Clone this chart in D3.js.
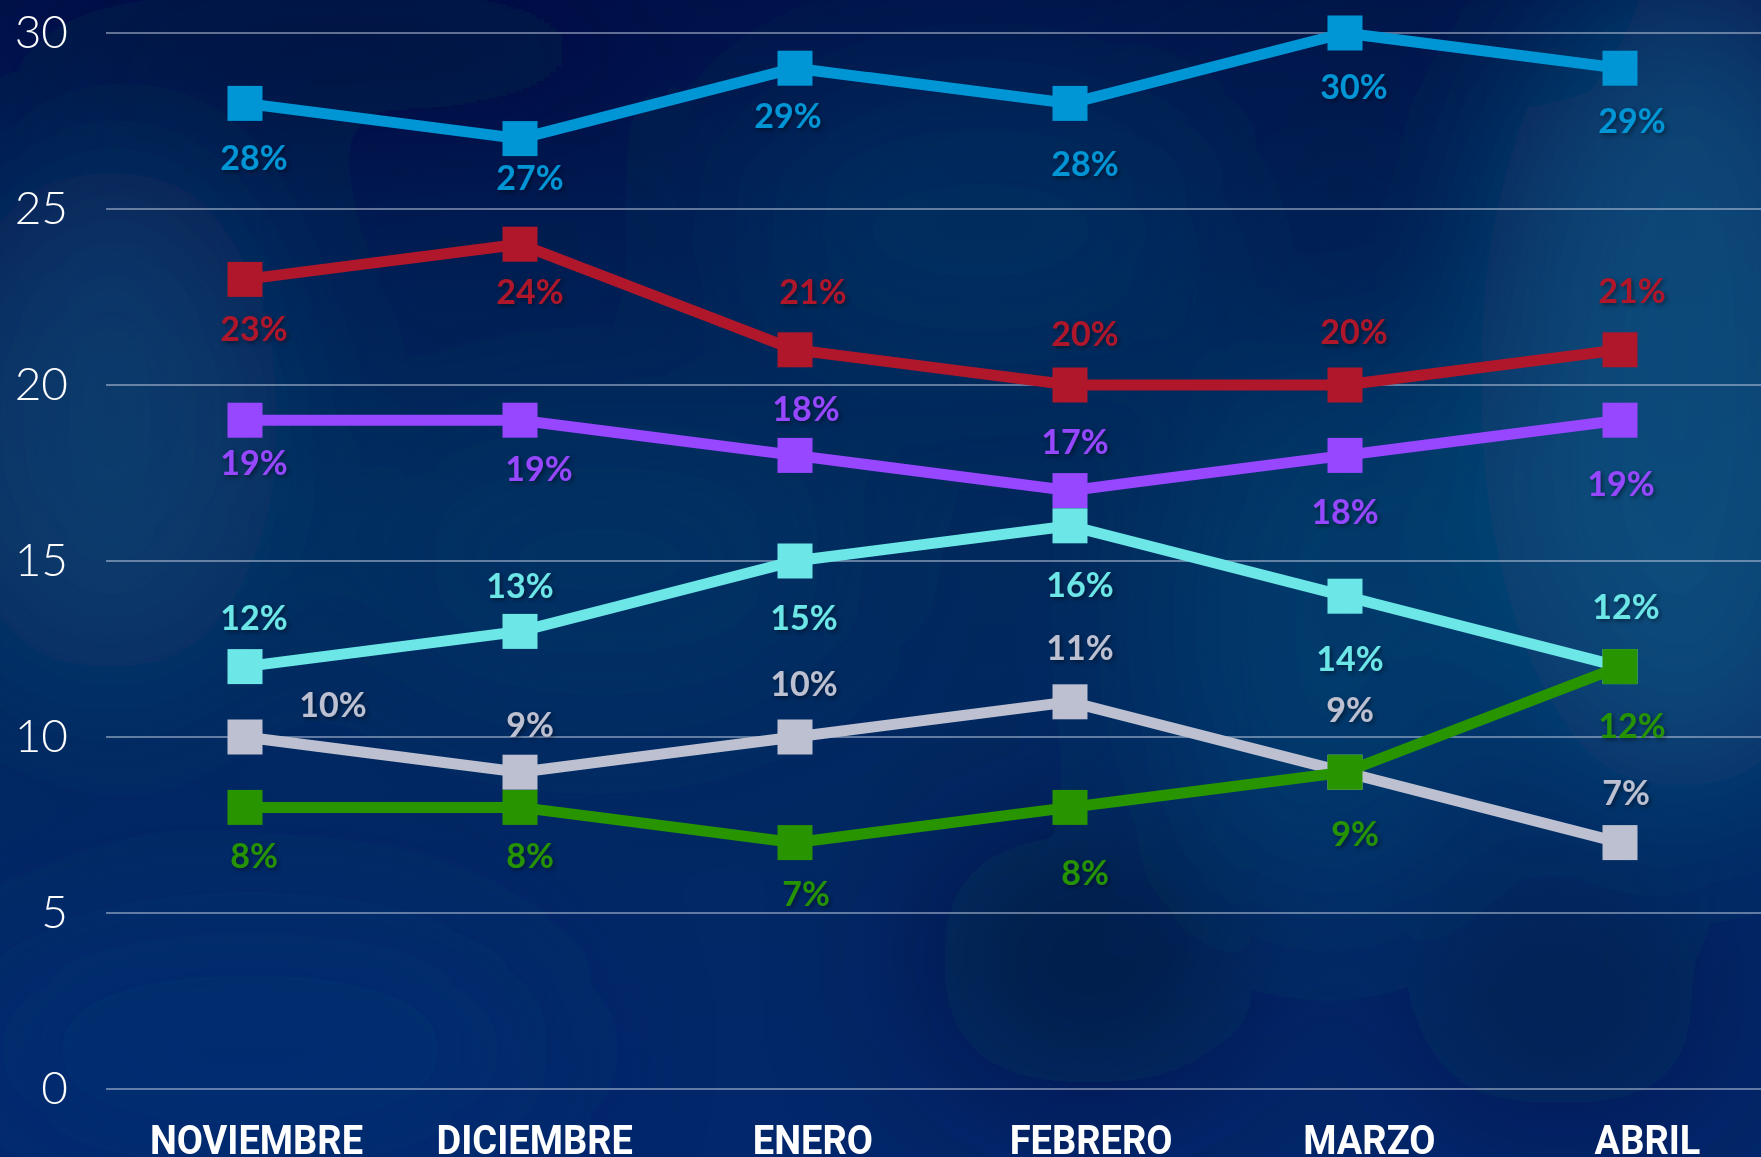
<!DOCTYPE html>
<html>
<head>
<meta charset="utf-8">
<script src="https://d3js.org/d3.v7.min.js"></script>
<style>
  html, body { margin: 0; padding: 0; background: #001448; overflow: hidden; }
  svg { display: block; }
</style>
</head>
<body>
<div id="chart"></div>
<script>
// months on the x axis
var months = ["NOVIEMBRE", "DICIEMBRE", "ENERO", "FEBRERO", "MARZO", "ABRIL"];
// y ticks
var yTicks = [0, 5, 10, 15, 20, 25, 30];

// series values (percent)
var azul    = [28, 27, 29, 28, 30, 29];
var rojo    = [23, 24, 21, 20, 20, 21];
var morado  = [19, 19, 18, 17, 18, 19];
var celeste = [12, 13, 15, 16, 14, 12];
var gris    = [10, 9, 10, 11, 9, 7];
var verde   = [8, 8, 7, 8, 9, 12];

// where each value label sits relative to its marker (px)
var shiftAzul    = [[9,54],[10,39],[-7,48],[15,60],[9,54],[12,53]];
var shiftRojo    = [[9,49],[10,48],[18,-58],[15,-51],[9,-53],[12,-59]];
var shiftMorado  = [[9,43],[19,49],[11,-47],[5,-49],[0,56],[1,64]];
var shiftCeleste = [[9,-49],[0,-46],[9,57],[10,59],[5,63],[6,-60]];
var shiftGris    = [[88,-32],[10,-47],[9,-53],[10,-54],[5,-62],[6,-50]];
var shiftVerde   = [[9,48],[10,48],[11,51],[15,65],[10,62],[12,59]];

// drawing order: bottom to top
var series = [
  {values: azul,    color: "#0096d6", shift: shiftAzul},
  {values: rojo,    color: "#b0172b", shift: shiftRojo},
  {values: morado,  color: "#9747ff", shift: shiftMorado},
  {values: celeste, color: "#6ce6e6", shift: shiftCeleste},
  {values: gris,    color: "#bcc0d0", shift: shiftGris},
  {values: verde,   color: "#289400", shift: shiftVerde}
];

var W = 1761, H = 1157;

var svg = d3.select("#chart").append("svg")
    .attr("width", W)
    .attr("height", H);

var defs = svg.append("defs");

// background gradient + blurred blobs
var bg = defs.append("linearGradient").attr("id", "bg")
    .attr("x1", 0).attr("y1", 0).attr("x2", 0).attr("y2", 1);
bg.append("stop").attr("offset", "0%").attr("stop-color", "#00134a");
bg.append("stop").attr("offset", "45%").attr("stop-color", "#022a5c");
bg.append("stop").attr("offset", "100%").attr("stop-color", "#03276c");

defs.append("filter").attr("id", "blur")
    .attr("filterUnits", "userSpaceOnUse")
    .attr("x", -300).attr("y", -300).attr("width", W + 600).attr("height", H + 600)
  .append("feGaussianBlur").attr("stdDeviation", 80);

var shadow = defs.append("filter").attr("id", "shadow")
    .attr("x", "-20%").attr("y", "-20%").attr("width", "140%").attr("height", "160%");
shadow.append("feDropShadow").attr("dx", 2).attr("dy", 2)
    .attr("stdDeviation", 2).attr("flood-color", "#000").attr("flood-opacity", 0.45);

svg.append("rect").attr("width", W).attr("height", H).attr("fill", "url(#bg)");

var blobs = [
  [1680, 380, 200, 420, "#0d5a88", 0.7],
  [1330, 620, 160, 280, "#0a4a78", 0.5],
  [110, 420, 170, 260, "#0b4a78", 0.6],
  [980, 230, 260, 160, "#0a3f6e", 0.45],
  [600, 560, 260, 140, "#083a6a", 0.45],
  [250, 1050, 300, 120, "#053277", 0.6],
  [1090, 960, 160, 130, "#000f34", 0.6],
  [1560, 1000, 150, 110, "#00113a", 0.5],
  [350, 50, 330, 70, "#001040", 0.7],
  [1380, 50, 260, 70, "#00124a", 0.5]
];
svg.append("g").attr("filter", "url(#blur)")
  .selectAll("ellipse").data(blobs).join("ellipse")
    .attr("cx", d => d[0]).attr("cy", d => d[1])
    .attr("rx", d => d[2]).attr("ry", d => d[3])
    .attr("fill", d => d[4]).attr("opacity", d => d[5]);

// scales
var x = d3.scalePoint().domain(months).range([245, 1620]);
var xLabel = d3.scalePoint().domain(months).range([256, 1647]);
var y = d3.scaleLinear().domain([0, 30]).range([1089, 33]);

// gridlines
svg.append("g")
  .selectAll("line").data(yTicks).join("line")
    .attr("x1", 106).attr("x2", W)
    .attr("y1", d => y(d)).attr("y2", d => y(d))
    .attr("stroke", "rgba(195,205,225,0.5)")
    .attr("stroke-width", 2);

// y axis
var yAxis = svg.append("g")
    .attr("transform", "translate(68,0)")
    .call(d3.axisLeft(y).tickValues(yTicks).tickSize(0).tickPadding(0));
yAxis.select(".domain").remove();
yAxis.selectAll("text")
    .attr("fill", "#ffffff")
    .style("font-family", "Lato, 'Open Sans', sans-serif")
    .style("font-weight", 300)
    .style("font-size", "46px");

// x axis (slightly squeezed glyphs)
var xAxis = svg.append("g")
    .attr("transform", "translate(0,1154)")
    .call(d3.axisBottom(xLabel).tickSize(0));
xAxis.select(".domain").remove();
xAxis.selectAll("text")
    .attr("y", 0).attr("dy", 0)
    .attr("transform", "scale(0.95,1)")
    .attr("fill", "#ffffff")
    .style("font-family", "Roboto, sans-serif")
    .style("font-weight", 700)
    .style("font-size", "40px");

// lines + markers
var line = d3.line()
    .x(function(d, i) { return x(months[i]); })
    .y(function(d) { return y(d); });

var size = 35;

series.forEach(function(s) {
  var g = svg.append("g");
  g.append("path")
      .datum(s.values)
      .attr("fill", "none")
      .attr("stroke", s.color)
      .attr("stroke-width", 11)
      .attr("d", line);
  g.selectAll("rect").data(s.values).join("rect")
      .attr("x", (d, i) => x(months[i]) - size / 2)
      .attr("y", d => y(d) - size / 2)
      .attr("width", size).attr("height", size)
      .attr("fill", s.color);
});

// value labels on top
series.forEach(function(s) {
  svg.append("g").attr("filter", "url(#shadow)")
    .selectAll("text").data(s.values).join("text")
      .attr("x", (d, i) => x(months[i]) + s.shift[i][0])
      .attr("y", (d, i) => y(d) + s.shift[i][1])
      .attr("dy", "0.36em")
      .attr("text-anchor", "middle")
      .attr("fill", s.color)
      .style("font-family", "Lato, 'Open Sans', sans-serif")
      .style("font-weight", 700)
      .style("font-size", "34px")
      .text(d => d + "%");
});
</script>
</body>
</html>
